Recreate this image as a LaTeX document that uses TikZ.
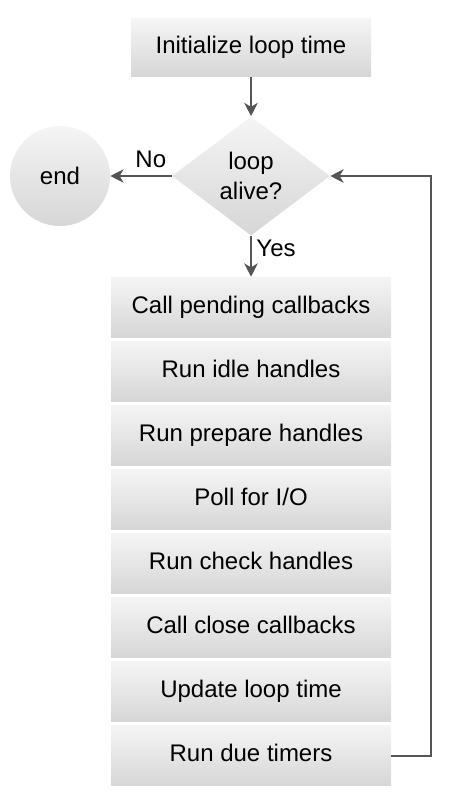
\documentclass[tikz,border=0pt]{standalone}
\usepackage{fontspec}
\setmainfont{Liberation Sans}
\usetikzlibrary{shapes.geometric, positioning, arrows.meta}

\definecolor{shadetop}{HTML}{F5F5F5}
\definecolor{shadebottom}{HTML}{D6D6D6}
\definecolor{linegray}{HTML}{555555}

\begin{document}
\begin{tikzpicture}[x=0.75pt, y=-0.75pt,
	every node/.style={font=\fontsize{18}{22.5}\selectfont},
	shaded/.style={top color=shadetop, bottom color=shadebottom, draw=none, inner sep=0pt},
	stepbox/.style={shaded, rectangle, minimum width=210pt, minimum height=45pt, text height=13pt, text depth=4pt},
	decision/.style={shaded, diamond, align=center, minimum width=118.5pt, minimum height=89.25pt},
	endnode/.style={shaded, circle, minimum size=75pt},
	flow/.style={draw=linegray, line width=1.5pt, -{Stealth[length=10pt, width=10pt, inset=3pt]}},
	node distance=2.7pt]
\useasboundingbox (0, 0) rectangle (458, 798);

% start and test
\node[stepbox, minimum width=180pt, minimum height=43.5pt] (init) at (251, 48) {Initialize loop time};
\node[decision] (alive) at (251, 176) {loop\\alive?};
\node[endnode] (end) at (60, 176) {end};

% loop phases
\node[stepbox] (pending) at (251, 307) {Call pending callbacks};
\node[stepbox, below=of pending] (idle) {Run idle handles};
\node[stepbox, below=of idle] (prepare) {Run prepare handles};
\node[stepbox, below=of prepare] (poll) {Poll for I/O};
\node[stepbox, below=of poll] (check) {Run check handles};
\node[stepbox, below=of check] (close) {Call close callbacks};
\node[stepbox, below=of close] (update) {Update loop time};
\node[stepbox, below=of update] (timers) {Run due timers};

% arrows
\draw[flow] (init) -- (alive);
\draw[flow] (alive) -- node[above=2pt, pos=0.34] {No} (end);
\draw[flow] (alive) -- node[right, pos=0.3, text depth=0pt] {Yes} (pending);
\draw[flow] (timers.east) -- ++(40, 0) |- (alive.east);
\end{tikzpicture}
\end{document}
